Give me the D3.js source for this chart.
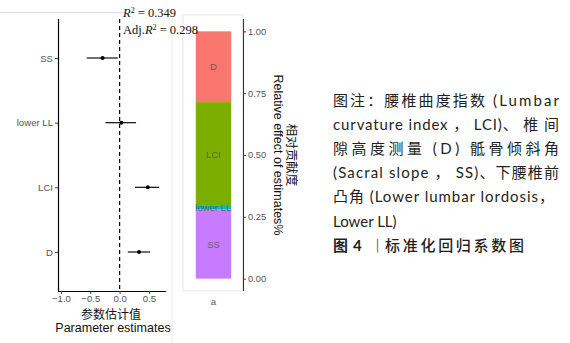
<!DOCTYPE html>
<html>
<head>
<meta charset="utf-8">
<script src="https://cdn.jsdelivr.net/npm/d3@7"></script>
<style>
  body { margin: 0; background: #fff; }
  svg { display: block; }
</style>
</head>
<body>
<div id="chart"></div>
<script>
// forest plot data
const categories = ["SS", "lower LL", "LCI", "D"];
const estimates  = [-0.29, 0.03, 0.48, 0.33];
const ciLow      = [-0.56, -0.24, 0.26, 0.14];
const ciHigh     = [-0.03, 0.28, 0.67, 0.52];
const xTicks     = [-1.0, -0.5, 0.0, 0.5];

// relative contribution (stacked, bottom to top)
const stackOrder    = ["SS", "lower LL", "LCI", "D"];
const contributions = [0.28, 0.014, 0.42, 0.286];
const stackColors   = ["#C77CFF", "#00BFC4", "#7CAE00", "#F8766D"];
const yTicksRight   = [0, 0.25, 0.5, 0.75, 1.0];

const r2 = "0.349", adjR2 = "0.298";

const captionLines = [
  "图注：腰椎曲度指数 (Lumbar",
  "curvature index ， LCI)、 椎 间",
  "隙高度测量 (D) 骶骨倾斜角",
  "(Sacral slope ， SS)、下腰椎前",
  "凸角 (Lower lumbar lordosis，",
  "Lower LL)"
];

const svg = d3.select("#chart").append("svg")
  .attr("width", 570).attr("height", 343);

const sans = "Liberation Sans, Arial, sans-serif";
const cjk = "Noto Sans CJK SC, sans-serif";
const serif = "Liberation Serif, Times New Roman, serif";

// faint frame lines from the composed figure
svg.append("line").attr("x1", 0).attr("x2", 125).attr("y1", 12.5).attr("y2", 12.5)
   .attr("stroke", "#dcdcdc").attr("stroke-width", 1);
svg.append("line").attr("x1", 172).attr("x2", 172).attr("y1", 12).attr("y2", 343)
   .attr("stroke", "#ececec").attr("stroke-width", 1);

// ---------- left: coefficient plot ----------
const x = d3.scaleLinear().domain([-1.05, 0.79]).range([58, 166]);
const y = d3.scalePoint().domain(categories).range([58, 252]);

const left = svg.append("g");

// dashed zero line
left.append("line")
    .attr("x1", x(0)).attr("x2", x(0)).attr("y1", 19).attr("y2", 291)
    .attr("stroke", "#000").attr("stroke-width", 1.2).attr("stroke-dasharray", "4,3");

categories.forEach((c, i) => {
  left.append("line")
      .attr("x1", x(ciLow[i])).attr("x2", x(ciHigh[i]))
      .attr("y1", y(c)).attr("y2", y(c))
      .attr("stroke", "#222").attr("stroke-width", 1.3);
  left.append("circle")
      .attr("cx", x(estimates[i])).attr("cy", y(c)).attr("r", 2)
      .attr("fill", "#000");
});

const xAxis = left.append("g").attr("transform", "translate(0,291)")
  .call(d3.axisBottom(x).tickValues(xTicks).tickFormat(d3.format(".1f")).tickSize(3).tickSizeOuter(0));
const yAxis = left.append("g").attr("transform", "translate(58,0)")
  .call(d3.axisLeft(y).tickSize(3).tickSizeOuter(0));
yAxis.select(".domain").attr("d", "M0.5,19V291");
xAxis.select(".domain").attr("d", "M58,0.5H166");

[xAxis, yAxis].forEach(a => {
  a.selectAll(".domain").attr("stroke", "#000").attr("stroke-width", 1.2);
  a.selectAll(".tick line").attr("stroke", "#444");
  a.selectAll("text").attr("fill", "#555").style("font-family", sans).style("font-size", "9.6px");
});
xAxis.selectAll("text").attr("y", 4.5);
yAxis.selectAll("text").attr("x", -5);

left.append("text").attr("x", 111).attr("y", 318.5).attr("text-anchor", "middle")
    .style("font-family", cjk).style("font-size", "12px").attr("fill", "#111")
    .text("参数估计值");
left.append("text").attr("x", 113).attr("y", 331.5).attr("text-anchor", "middle")
    .style("font-family", sans).style("font-size", "12.5px").attr("fill", "#111")
    .text("Parameter estimates");

// ---------- right: stacked relative contribution ----------
const xb = d3.scaleBand().domain(["a"]).range([184, 243]).paddingInner(0.1).paddingOuter(0.3);
const yb = d3.scaleLinear().domain([-0.05, 1.05]).range([291, 19]);

const right = svg.append("g");
right.append("rect").attr("x", 183).attr("y", 15).attr("width", 60).attr("height", 276)
     .attr("fill", "#fff").attr("stroke", "#e6e6e6").attr("stroke-width", 1);

const stacked = [];
let acc = 0;
stackOrder.forEach((k, i) => {
  stacked.push({ key: k, y0: acc, y1: acc + contributions[i], color: stackColors[i] });
  acc += contributions[i];
});

right.selectAll("rect.seg").data(stacked).join("rect")
  .attr("class", "seg")
  .attr("x", xb("a")).attr("width", xb.bandwidth())
  .attr("y", d => yb(d.y1)).attr("height", d => yb(d.y0) - yb(d.y1))
  .attr("fill", d => d.color);

right.selectAll("text.lab").data(stacked).join("text")
  .attr("class", "lab")
  .attr("x", xb("a") + xb.bandwidth() / 2)
  .attr("y", d => yb((d.y0 + d.y1) / 2) + 3.5)
  .attr("text-anchor", "middle")
  .style("font-family", sans).style("font-size", "9.5px")
  .attr("fill", "#555").attr("fill-opacity", 0.85)
  .text(d => d.key);

const yAxisR = right.append("g").attr("transform", "translate(243,0)")
  .call(d3.axisRight(yb).tickValues(yTicksRight).tickFormat(d3.format(".2f")).tickSize(3).tickSizeOuter(0));
yAxisR.select(".domain").attr("d", "M0.5,19V291").attr("stroke", "#333").attr("stroke-width", 1.1);
yAxisR.selectAll(".tick line").attr("stroke", "#444");
yAxisR.selectAll("text").attr("x", 5).attr("fill", "#555")
  .style("font-family", sans).style("font-size", "9.3px");

const xAxisR = right.append("g").attr("transform", "translate(0,291)")
  .call(d3.axisBottom(xb).tickSize(0));
xAxisR.select(".domain").remove();
xAxisR.selectAll("text").attr("y", 7).attr("fill", "#555")
  .style("font-family", sans).style("font-size", "9.6px");

// rotated axis title (reads top to bottom)
const ttl = right.append("g").attr("transform", "translate(278,155) rotate(90)");
ttl.append("text").attr("y", -9).attr("text-anchor", "middle")
   .style("font-family", cjk).style("font-size", "12.5px").attr("fill", "#111")
   .text("相对贡献度");
ttl.append("text").attr("y", 4).attr("text-anchor", "middle")
   .style("font-family", sans).style("font-size", "12.5px").attr("fill", "#111")
   .text("Relative effect of estimates%");

// R squared annotation (drawn over the right panel)
const r2a = svg.append("text").attr("x", 123).attr("y", 17)
  .style("font-family", serif).style("font-size", "12.5px").attr("fill", "#111");
r2a.append("tspan").style("font-style", "italic").text("R");
r2a.append("tspan").attr("dy", -4).style("font-size", "8px").text("2");
r2a.append("tspan").attr("dy", 4).text(" = " + r2);
const r2b = svg.append("text").attr("x", 123).attr("y", 34)
  .style("font-family", serif).style("font-size", "12.5px").attr("fill", "#111");
r2b.append("tspan").text("Adj.");
r2b.append("tspan").style("font-style", "italic").text("R");
r2b.append("tspan").attr("dy", -4).style("font-size", "8px").text("2");
r2b.append("tspan").attr("dy", 4).text(" = " + adjR2);

// ---------- caption ----------
const capFont = "Lato, Noto Sans CJK SC, sans-serif";
const capFits = [226, 226, 226, 226, 221, null];
captionLines.forEach((t, i) => {
  const el = svg.append("text")
    .attr("x", 333).attr("y", 106 + i * 24.1)
    .style("font-family", capFont).style("font-size", "15px").attr("fill", "#231f20")
    .text(t);
  if (capFits[i]) el.attr("textLength", capFits[i]).attr("lengthAdjust", "spacing");
});

const fig = svg.append("g");
fig.append("text").attr("x", 333).attr("y", 250.6)
   .style("font-family", cjk).style("font-size", "15px").style("font-weight", 700)
   .attr("fill", "#231f20").text("图");
fig.append("text").attr("x", 353).attr("y", 250.6)
   .style("font-family", capFont).style("font-size", "15px").style("font-weight", 700)
   .attr("fill", "#231f20").text("4");
fig.append("text").attr("x", 370).attr("y", 250.6)
   .style("font-family", cjk).style("font-size", "15px").style("font-weight", 300)
   .attr("fill", "#2b3f6b").text("丨");
fig.append("text").attr("x", 385).attr("y", 250.6)
   .style("font-family", cjk).style("font-size", "15px").style("font-weight", 500)
   .attr("fill", "#231f20")
   .attr("textLength", 139).attr("lengthAdjust", "spacing").text("标准化回归系数图");
</script>
</body>
</html>
